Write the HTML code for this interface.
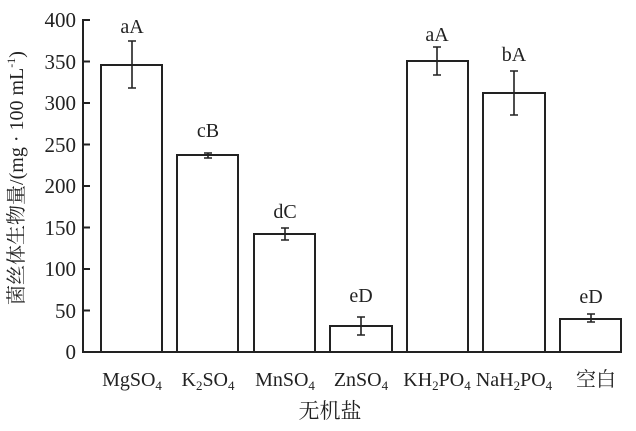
<!DOCTYPE html>
<html><head><meta charset="utf-8"><style>
html,body{margin:0;padding:0;background:#fff;}
</style></head><body>
<svg width="636" height="426" viewBox="0 0 636 426" xmlns="http://www.w3.org/2000/svg" font-family="Liberation Serif, 'Noto Serif CJK SC', serif" fill="#222">
<g stroke="#222" stroke-width="2" fill="none">
<line x1="83" y1="19" x2="83" y2="352"/>
<line x1="82" y1="352" x2="622" y2="352"/>
<line x1="83" y1="20" x2="90" y2="20"/>
<line x1="83" y1="61.5" x2="90" y2="61.5"/>
<line x1="83" y1="103" x2="90" y2="103"/>
<line x1="83" y1="144.5" x2="90" y2="144.5"/>
<line x1="83" y1="186" x2="90" y2="186"/>
<line x1="83" y1="227.5" x2="90" y2="227.5"/>
<line x1="83" y1="269" x2="90" y2="269"/>
<line x1="83" y1="310.5" x2="90" y2="310.5"/>
<rect x="101" y="65" width="61" height="287"/>
<rect x="177" y="155" width="61" height="197"/>
<rect x="254" y="234" width="61" height="118"/>
<rect x="330" y="326" width="62" height="26"/>
<rect x="407" y="61" width="61" height="291"/>
<rect x="483" y="93" width="62" height="259"/>
<rect x="560" y="319" width="61" height="33"/>
</g>
<g stroke="#222" stroke-width="1.6">
<path d="M132 41V88M128 41h8M128 88h8"/>
<path d="M208 153V158M204 153h8M204 158h8"/>
<path d="M285 228V240M281 228h8M281 240h8"/>
<path d="M361 317V335M357 317h8M357 335h8"/>
<path d="M437 47V75M433 47h8M433 75h8"/>
<path d="M514 71V115M510 71h8M510 115h8"/>
<path d="M591 314V322M587 314h8M587 322h8"/>
</g>
<g font-size="21" text-anchor="end">
<text x="76" y="27">400</text><text x="76" y="69">350</text><text x="76" y="110">300</text>
<text x="76" y="152">250</text><text x="76" y="193">200</text><text x="76" y="235">150</text>
<text x="76" y="276">100</text><text x="76" y="318">50</text><text x="76" y="359">0</text>
</g>
<g font-size="20" text-anchor="middle">
<text x="132" y="33">aA</text><text x="208" y="137">cB</text><text x="285" y="218">dC</text>
<text x="361" y="302">eD</text><text x="437" y="41">aA</text><text x="514" y="61">bA</text><text x="591" y="303">eD</text>
<text x="132" y="386">MgSO<tspan font-size="13" dy="4">4</tspan></text>
<text x="208" y="386">K<tspan font-size="13" dy="4">2</tspan><tspan dy="-4">SO</tspan><tspan font-size="13" dy="4">4</tspan></text>
<text x="285" y="386">MnSO<tspan font-size="13" dy="4">4</tspan></text>
<text x="361" y="386">ZnSO<tspan font-size="13" dy="4">4</tspan></text>
<text x="437" y="386">KH<tspan font-size="13" dy="4">2</tspan><tspan dy="-4">PO</tspan><tspan font-size="13" dy="4">4</tspan></text>
<text x="514" y="386">NaH<tspan font-size="13" dy="4">2</tspan><tspan dy="-4">PO</tspan><tspan font-size="13" dy="4">4</tspan></text>
<text x="596" y="386" font-family="'Noto Serif CJK SC', serif">空白</text>
<text x="330" y="418" font-size="21" font-family="'Noto Serif CJK SC', serif">无机盐</text>
<text transform="translate(23,178) rotate(-90)" font-size="20">菌丝体生物量/(mg · 100 mL<tspan font-size="12" dy="-8">-1</tspan><tspan dy="8">)</tspan></text>
</g>
</svg>
</body></html>
